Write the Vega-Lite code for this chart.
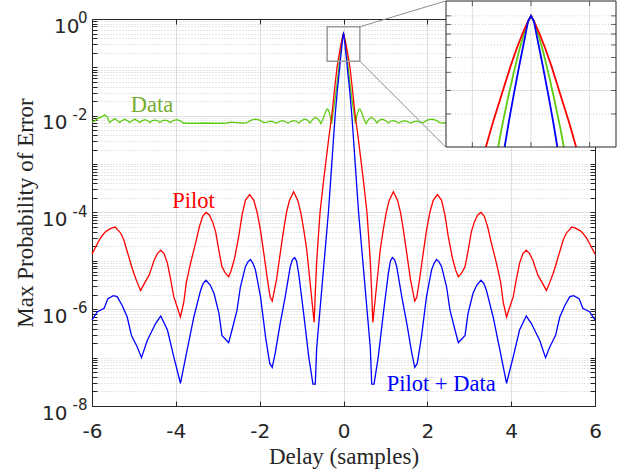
{
"$schema": "https://vega.github.io/schema/vega-lite/v6.json",
"width": 503, "height": 387,
"autosize": {"type": "none"},
"padding": {"left": 92, "top": 19, "right": 34, "bottom": 68},
"background": "white",
"config": {"view": {"stroke": null}},
"datasets": {
"curves": [
{"s":"Data","x":-6,"p":0.00741},{"s":"Data","x":-5.93,"p":0.00794},{"s":"Data","x":-5.85,"p":0.00891},{"s":"Data","x":-5.76,"p":0.00955},{"s":"Data","x":-5.7,"p":0.01047},{"s":"Data","x":-5.64,"p":0.00955},{"s":"Data","x":-5.58,"p":0.00724},{"s":"Data","x":-5.52,"p":0.00794},{"s":"Data","x":-5.46,"p":0.00871},{"s":"Data","x":-5.4,"p":0.00794},{"s":"Data","x":-5.34,"p":0.00724},{"s":"Data","x":-5.28,"p":0.00794},{"s":"Data","x":-5.22,"p":0.00851},{"s":"Data","x":-5.16,"p":0.00794},{"s":"Data","x":-5.1,"p":0.00724},{"s":"Data","x":-5.04,"p":0.00794},{"s":"Data","x":-4.98,"p":0.00851},{"s":"Data","x":-4.92,"p":0.00794},{"s":"Data","x":-4.86,"p":0.00724},{"s":"Data","x":-4.8,"p":0.00794},{"s":"Data","x":-4.74,"p":0.00832},{"s":"Data","x":-4.68,"p":0.00794},{"s":"Data","x":-4.62,"p":0.00724},{"s":"Data","x":-4.56,"p":0.00794},{"s":"Data","x":-4.5,"p":0.00813},{"s":"Data","x":-4.44,"p":0.00794},{"s":"Data","x":-4.38,"p":0.00724},{"s":"Data","x":-4.32,"p":0.00794},{"s":"Data","x":-4.26,"p":0.00813},{"s":"Data","x":-4.2,"p":0.00794},{"s":"Data","x":-4.14,"p":0.00724},{"s":"Data","x":-4.06,"p":0.00794},{"s":"Data","x":-3.98,"p":0.00832},{"s":"Data","x":-3.9,"p":0.00794},{"s":"Data","x":-3.82,"p":0.00708},{"s":"Data","x":-3.7,"p":0.007},{"s":"Data","x":-3.5,"p":0.007},{"s":"Data","x":-3.3,"p":0.00708},{"s":"Data","x":-3.1,"p":0.007},{"s":"Data","x":-2.9,"p":0.007},{"s":"Data","x":-2.8,"p":0.00708},{"s":"Data","x":-2.67,"p":0.00741},{"s":"Data","x":-2.55,"p":0.00724},{"s":"Data","x":-2.4,"p":0.00708},{"s":"Data","x":-2.3,"p":0.00724},{"s":"Data","x":-2.2,"p":0.00813},{"s":"Data","x":-2.1,"p":0.00851},{"s":"Data","x":-2,"p":0.00813},{"s":"Data","x":-1.9,"p":0.00724},{"s":"Data","x":-1.82,"p":0.00741},{"s":"Data","x":-1.75,"p":0.00776},{"s":"Data","x":-1.68,"p":0.00759},{"s":"Data","x":-1.6,"p":0.00708},{"s":"Data","x":-1.53,"p":0.00759},{"s":"Data","x":-1.46,"p":0.00794},{"s":"Data","x":-1.39,"p":0.00759},{"s":"Data","x":-1.32,"p":0.00708},{"s":"Data","x":-1.26,"p":0.00759},{"s":"Data","x":-1.2,"p":0.00794},{"s":"Data","x":-1.13,"p":0.00776},{"s":"Data","x":-1.07,"p":0.00708},{"s":"Data","x":-1,"p":0.00794},{"s":"Data","x":-0.93,"p":0.00851},{"s":"Data","x":-0.86,"p":0.00813},{"s":"Data","x":-0.8,"p":0.00708},{"s":"Data","x":-0.74,"p":0.00832},{"s":"Data","x":-0.67,"p":0.00933},{"s":"Data","x":-0.6,"p":0.00851},{"s":"Data","x":-0.54,"p":0.00692},{"s":"Data","x":-0.48,"p":0.00891},{"s":"Data","x":-0.43,"p":0.012},{"s":"Data","x":-0.39,"p":0.0138},{"s":"Data","x":-0.36,"p":0.0132},{"s":"Data","x":-0.32,"p":0.01},{"s":"Data","x":-0.28,"p":0.00692},{"s":"Data","x":-0.26,"p":0.01},{"s":"Data","x":-0.24,"p":0.0126},{"s":"Data","x":-0.2,"p":0.0224},{"s":"Data","x":-0.15,"p":0.0501},{"s":"Data","x":-0.112,"p":0.1},{"s":"Data","x":-0.1,"p":0.126},{"s":"Data","x":-0.08,"p":0.178},{"s":"Data","x":-0.06,"p":0.245},{"s":"Data","x":-0.04,"p":0.329},{"s":"Data","x":-0.02,"p":0.422},{"s":"Data","x":-0.01,"p":0.468},
{"s":"Data","x":0,"p":0.5},
{"s":"Data","x":0.01,"p":0.468},{"s":"Data","x":0.02,"p":0.422},{"s":"Data","x":0.04,"p":0.329},{"s":"Data","x":0.06,"p":0.245},{"s":"Data","x":0.08,"p":0.178},{"s":"Data","x":0.1,"p":0.126},{"s":"Data","x":0.112,"p":0.1},{"s":"Data","x":0.15,"p":0.0501},{"s":"Data","x":0.2,"p":0.0224},{"s":"Data","x":0.24,"p":0.0126},{"s":"Data","x":0.26,"p":0.01},{"s":"Data","x":0.28,"p":0.00692},{"s":"Data","x":0.32,"p":0.01},{"s":"Data","x":0.36,"p":0.0132},{"s":"Data","x":0.39,"p":0.0138},{"s":"Data","x":0.43,"p":0.012},{"s":"Data","x":0.48,"p":0.00891},{"s":"Data","x":0.54,"p":0.00692},{"s":"Data","x":0.6,"p":0.00851},{"s":"Data","x":0.67,"p":0.00933},{"s":"Data","x":0.74,"p":0.00832},{"s":"Data","x":0.8,"p":0.00708},{"s":"Data","x":0.86,"p":0.00813},{"s":"Data","x":0.93,"p":0.00851},{"s":"Data","x":1,"p":0.00794},{"s":"Data","x":1.07,"p":0.00708},{"s":"Data","x":1.13,"p":0.00776},{"s":"Data","x":1.2,"p":0.00794},{"s":"Data","x":1.26,"p":0.00759},{"s":"Data","x":1.32,"p":0.00708},{"s":"Data","x":1.39,"p":0.00759},{"s":"Data","x":1.46,"p":0.00794},{"s":"Data","x":1.53,"p":0.00759},{"s":"Data","x":1.6,"p":0.00708},{"s":"Data","x":1.68,"p":0.00759},{"s":"Data","x":1.75,"p":0.00776},{"s":"Data","x":1.82,"p":0.00741},{"s":"Data","x":1.9,"p":0.00724},{"s":"Data","x":2,"p":0.00813},{"s":"Data","x":2.1,"p":0.00851},{"s":"Data","x":2.2,"p":0.00813},{"s":"Data","x":2.3,"p":0.00724},{"s":"Data","x":2.4,"p":0.00708},{"s":"Data","x":2.55,"p":0.00724},{"s":"Data","x":2.67,"p":0.00741},{"s":"Data","x":2.8,"p":0.00708},{"s":"Data","x":2.9,"p":0.007},{"s":"Data","x":3.1,"p":0.007},{"s":"Data","x":3.3,"p":0.00708},{"s":"Data","x":3.5,"p":0.007},{"s":"Data","x":3.7,"p":0.007},{"s":"Data","x":3.82,"p":0.00708},{"s":"Data","x":3.9,"p":0.00794},{"s":"Data","x":3.98,"p":0.00832},{"s":"Data","x":4.06,"p":0.00794},{"s":"Data","x":4.14,"p":0.00724},{"s":"Data","x":4.2,"p":0.00794},{"s":"Data","x":4.26,"p":0.00813},{"s":"Data","x":4.32,"p":0.00794},{"s":"Data","x":4.38,"p":0.00724},{"s":"Data","x":4.44,"p":0.00794},{"s":"Data","x":4.5,"p":0.00813},{"s":"Data","x":4.56,"p":0.00794},{"s":"Data","x":4.62,"p":0.00724},{"s":"Data","x":4.68,"p":0.00794},{"s":"Data","x":4.74,"p":0.00832},{"s":"Data","x":4.8,"p":0.00794},{"s":"Data","x":4.86,"p":0.00724},{"s":"Data","x":4.92,"p":0.00794},{"s":"Data","x":4.98,"p":0.00851},{"s":"Data","x":5.04,"p":0.00794},{"s":"Data","x":5.1,"p":0.00724},{"s":"Data","x":5.16,"p":0.00794},{"s":"Data","x":5.22,"p":0.00851},{"s":"Data","x":5.28,"p":0.00794},{"s":"Data","x":5.34,"p":0.00724},{"s":"Data","x":5.4,"p":0.00794},{"s":"Data","x":5.46,"p":0.00871},{"s":"Data","x":5.52,"p":0.00794},{"s":"Data","x":5.58,"p":0.00724},{"s":"Data","x":5.64,"p":0.00955},{"s":"Data","x":5.7,"p":0.01047},{"s":"Data","x":5.76,"p":0.00955},{"s":"Data","x":5.85,"p":0.00891},{"s":"Data","x":5.93,"p":0.00794},{"s":"Data","x":6,"p":0.00741},

{"s":"Pilot","x":-6,"p":1.38e-5},{"s":"Pilot","x":-5.94,"p":1.74e-5},{"s":"Pilot","x":-5.87,"p":2.29e-5},{"s":"Pilot","x":-5.8,"p":2.95e-5},{"s":"Pilot","x":-5.71,"p":3.72e-5},{"s":"Pilot","x":-5.65,"p":4.17e-5},{"s":"Pilot","x":-5.59,"p":4.47e-5},{"s":"Pilot","x":-5.52,"p":4.79e-5},{"s":"Pilot","x":-5.44,"p":5.01e-5},{"s":"Pilot","x":-5.4,"p":4.47e-5},{"s":"Pilot","x":-5.32,"p":3.8e-5},{"s":"Pilot","x":-5.24,"p":2.69e-5},{"s":"Pilot","x":-5.18,"p":1.78e-5},{"s":"Pilot","x":-5.12,"p":1.2e-5},{"s":"Pilot","x":-5.06,"p":7.94e-6},{"s":"Pilot","x":-5,"p":5.5e-6},{"s":"Pilot","x":-4.92,"p":3.55e-6},{"s":"Pilot","x":-4.84,"p":2.45e-6},{"s":"Pilot","x":-4.74,"p":3.55e-6},{"s":"Pilot","x":-4.64,"p":5.01e-6},{"s":"Pilot","x":-4.58,"p":7.08e-6},{"s":"Pilot","x":-4.52,"p":1.02e-5},{"s":"Pilot","x":-4.44,"p":1.41e-5},{"s":"Pilot","x":-4.36,"p":1.66e-5},{"s":"Pilot","x":-4.28,"p":1.41e-5},{"s":"Pilot","x":-4.2,"p":8.91e-6},{"s":"Pilot","x":-4.12,"p":3.98e-6},{"s":"Pilot","x":-4.05,"p":1.82e-6},{"s":"Pilot","x":-3.95,"p":1e-6},{"s":"Pilot","x":-3.89,"p":6.92e-7},{"s":"Pilot","x":-3.81,"p":1.41e-6},{"s":"Pilot","x":-3.75,"p":3.55e-6},{"s":"Pilot","x":-3.65,"p":8.91e-6},{"s":"Pilot","x":-3.52,"p":2.51e-5},{"s":"Pilot","x":-3.44,"p":5.01e-5},{"s":"Pilot","x":-3.36,"p":8.32e-5},{"s":"Pilot","x":-3.28,"p":1e-4},{"s":"Pilot","x":-3.2,"p":8.91e-5},{"s":"Pilot","x":-3.12,"p":6.31e-5},{"s":"Pilot","x":-3.05,"p":3.98e-5},{"s":"Pilot","x":-2.97,"p":1.58e-5},{"s":"Pilot","x":-2.9,"p":7.59e-6},{"s":"Pilot","x":-2.82,"p":5.62e-6},{"s":"Pilot","x":-2.74,"p":4.68e-6},{"s":"Pilot","x":-2.68,"p":6.31e-6},{"s":"Pilot","x":-2.6,"p":1.12e-5},{"s":"Pilot","x":-2.5,"p":3.16e-5},{"s":"Pilot","x":-2.42,"p":8.91e-5},{"s":"Pilot","x":-2.34,"p":1.78e-4},{"s":"Pilot","x":-2.24,"p":2.34e-4},{"s":"Pilot","x":-2.14,"p":1.78e-4},{"s":"Pilot","x":-2.06,"p":1e-4},{"s":"Pilot","x":-1.98,"p":4.27e-5},{"s":"Pilot","x":-1.9,"p":1.41e-5},{"s":"Pilot","x":-1.82,"p":4.47e-6},{"s":"Pilot","x":-1.75,"p":1.78e-6},{"s":"Pilot","x":-1.7,"p":1.48e-6},{"s":"Pilot","x":-1.6,"p":3.98e-6},{"s":"Pilot","x":-1.51,"p":1.41e-5},{"s":"Pilot","x":-1.43,"p":4.27e-5},{"s":"Pilot","x":-1.36,"p":1e-4},{"s":"Pilot","x":-1.29,"p":1.78e-4},{"s":"Pilot","x":-1.19,"p":2.69e-4},{"s":"Pilot","x":-1.09,"p":1.78e-4},{"s":"Pilot","x":-1.02,"p":1e-4},{"s":"Pilot","x":-0.95,"p":4.47e-5},{"s":"Pilot","x":-0.88,"p":1.78e-5},{"s":"Pilot","x":-0.82,"p":5.62e-6},{"s":"Pilot","x":-0.75,"p":1.41e-6},{"s":"Pilot","x":-0.7,"p":5.37e-7},{"s":"Pilot","x":-0.67,"p":2.51e-6},{"s":"Pilot","x":-0.64,"p":9.55e-6},{"s":"Pilot","x":-0.6,"p":3.16e-5},{"s":"Pilot","x":-0.56,"p":1e-4},{"s":"Pilot","x":-0.49,"p":0.000355},{"s":"Pilot","x":-0.42,"p":0.00112},{"s":"Pilot","x":-0.35,"p":0.00355},{"s":"Pilot","x":-0.28,"p":0.01},{"s":"Pilot","x":-0.2,"p":0.0447},{"s":"Pilot","x":-0.154,"p":0.1},{"s":"Pilot","x":-0.13,"p":0.135},{"s":"Pilot","x":-0.11,"p":0.17},{"s":"Pilot","x":-0.09,"p":0.214},{"s":"Pilot","x":-0.07,"p":0.269},{"s":"Pilot","x":-0.05,"p":0.331},{"s":"Pilot","x":-0.03,"p":0.398},{"s":"Pilot","x":-0.01,"p":0.468},
{"s":"Pilot","x":0,"p":0.5},
{"s":"Pilot","x":0.01,"p":0.468},{"s":"Pilot","x":0.03,"p":0.398},{"s":"Pilot","x":0.05,"p":0.331},{"s":"Pilot","x":0.07,"p":0.269},{"s":"Pilot","x":0.09,"p":0.214},{"s":"Pilot","x":0.11,"p":0.17},{"s":"Pilot","x":0.13,"p":0.135},{"s":"Pilot","x":0.154,"p":0.1},{"s":"Pilot","x":0.2,"p":0.0447},{"s":"Pilot","x":0.28,"p":0.01},{"s":"Pilot","x":0.35,"p":0.00355},{"s":"Pilot","x":0.42,"p":0.00112},{"s":"Pilot","x":0.49,"p":0.000355},{"s":"Pilot","x":0.56,"p":1e-4},{"s":"Pilot","x":0.6,"p":3.16e-5},{"s":"Pilot","x":0.64,"p":9.55e-6},{"s":"Pilot","x":0.67,"p":2.51e-6},{"s":"Pilot","x":0.7,"p":5.37e-7},{"s":"Pilot","x":0.75,"p":1.41e-6},{"s":"Pilot","x":0.82,"p":5.62e-6},{"s":"Pilot","x":0.88,"p":1.78e-5},{"s":"Pilot","x":0.95,"p":4.47e-5},{"s":"Pilot","x":1.02,"p":1e-4},{"s":"Pilot","x":1.09,"p":1.78e-4},{"s":"Pilot","x":1.19,"p":2.69e-4},{"s":"Pilot","x":1.29,"p":1.78e-4},{"s":"Pilot","x":1.36,"p":1e-4},{"s":"Pilot","x":1.43,"p":4.27e-5},{"s":"Pilot","x":1.51,"p":1.41e-5},{"s":"Pilot","x":1.6,"p":3.98e-6},{"s":"Pilot","x":1.7,"p":1.48e-6},{"s":"Pilot","x":1.75,"p":1.78e-6},{"s":"Pilot","x":1.82,"p":4.47e-6},{"s":"Pilot","x":1.9,"p":1.41e-5},{"s":"Pilot","x":1.98,"p":4.27e-5},{"s":"Pilot","x":2.06,"p":1e-4},{"s":"Pilot","x":2.14,"p":1.78e-4},{"s":"Pilot","x":2.24,"p":2.34e-4},{"s":"Pilot","x":2.34,"p":1.78e-4},{"s":"Pilot","x":2.42,"p":8.91e-5},{"s":"Pilot","x":2.5,"p":3.16e-5},{"s":"Pilot","x":2.6,"p":1.12e-5},{"s":"Pilot","x":2.68,"p":6.31e-6},{"s":"Pilot","x":2.74,"p":4.68e-6},{"s":"Pilot","x":2.82,"p":5.62e-6},{"s":"Pilot","x":2.9,"p":7.59e-6},{"s":"Pilot","x":2.97,"p":1.58e-5},{"s":"Pilot","x":3.05,"p":3.98e-5},{"s":"Pilot","x":3.12,"p":6.31e-5},{"s":"Pilot","x":3.2,"p":8.91e-5},{"s":"Pilot","x":3.28,"p":1e-4},{"s":"Pilot","x":3.36,"p":8.32e-5},{"s":"Pilot","x":3.44,"p":5.01e-5},{"s":"Pilot","x":3.52,"p":2.51e-5},{"s":"Pilot","x":3.65,"p":8.91e-6},{"s":"Pilot","x":3.75,"p":3.55e-6},{"s":"Pilot","x":3.81,"p":1.41e-6},{"s":"Pilot","x":3.89,"p":6.92e-7},{"s":"Pilot","x":3.95,"p":1e-6},{"s":"Pilot","x":4.05,"p":1.82e-6},{"s":"Pilot","x":4.12,"p":3.98e-6},{"s":"Pilot","x":4.2,"p":8.91e-6},{"s":"Pilot","x":4.28,"p":1.41e-5},{"s":"Pilot","x":4.36,"p":1.66e-5},{"s":"Pilot","x":4.44,"p":1.41e-5},{"s":"Pilot","x":4.52,"p":1.02e-5},{"s":"Pilot","x":4.58,"p":7.08e-6},{"s":"Pilot","x":4.64,"p":5.01e-6},{"s":"Pilot","x":4.74,"p":3.55e-6},{"s":"Pilot","x":4.84,"p":2.45e-6},{"s":"Pilot","x":4.92,"p":3.55e-6},{"s":"Pilot","x":5,"p":5.5e-6},{"s":"Pilot","x":5.06,"p":7.94e-6},{"s":"Pilot","x":5.12,"p":1.2e-5},{"s":"Pilot","x":5.18,"p":1.78e-5},{"s":"Pilot","x":5.24,"p":2.69e-5},{"s":"Pilot","x":5.32,"p":3.8e-5},{"s":"Pilot","x":5.4,"p":4.47e-5},{"s":"Pilot","x":5.44,"p":5.01e-5},{"s":"Pilot","x":5.52,"p":4.79e-5},{"s":"Pilot","x":5.59,"p":4.47e-5},{"s":"Pilot","x":5.65,"p":4.17e-5},{"s":"Pilot","x":5.71,"p":3.72e-5},{"s":"Pilot","x":5.8,"p":2.95e-5},{"s":"Pilot","x":5.87,"p":2.29e-5},{"s":"Pilot","x":5.94,"p":1.74e-5},{"s":"Pilot","x":6,"p":1.38e-5},

{"s":"Pilot + Data","x":-6,"p":6.03e-7},{"s":"Pilot + Data","x":-5.87,"p":8.91e-7},{"s":"Pilot + Data","x":-5.71,"p":1.05e-6},{"s":"Pilot + Data","x":-5.62,"p":1.66e-6},{"s":"Pilot + Data","x":-5.49,"p":1.91e-6},{"s":"Pilot + Data","x":-5.4,"p":1.82e-6},{"s":"Pilot + Data","x":-5.28,"p":1.2e-6},{"s":"Pilot + Data","x":-5.16,"p":6.92e-7},{"s":"Pilot + Data","x":-5.06,"p":2.88e-7},{"s":"Pilot + Data","x":-4.92,"p":1.66e-7},{"s":"Pilot + Data","x":-4.82,"p":1e-7},{"s":"Pilot + Data","x":-4.68,"p":2.29e-7},{"s":"Pilot + Data","x":-4.6,"p":3.16e-7},{"s":"Pilot + Data","x":-4.48,"p":5.13e-7},{"s":"Pilot + Data","x":-4.36,"p":7.24e-7},{"s":"Pilot + Data","x":-4.2,"p":3.72e-7},{"s":"Pilot + Data","x":-4.05,"p":1.05e-7},{"s":"Pilot + Data","x":-3.89,"p":2.95e-8},{"s":"Pilot + Data","x":-3.73,"p":1.45e-7},{"s":"Pilot + Data","x":-3.57,"p":6.92e-7},{"s":"Pilot + Data","x":-3.41,"p":2.45e-6},{"s":"Pilot + Data","x":-3.35,"p":3.39e-6},{"s":"Pilot + Data","x":-3.28,"p":3.98e-6},{"s":"Pilot + Data","x":-3.18,"p":3.16e-6},{"s":"Pilot + Data","x":-3.09,"p":2.14e-6},{"s":"Pilot + Data","x":-2.97,"p":8.13e-7},{"s":"Pilot + Data","x":-2.9,"p":2.88e-7},{"s":"Pilot + Data","x":-2.74,"p":2.04e-7},{"s":"Pilot + Data","x":-2.66,"p":3.72e-7},{"s":"Pilot + Data","x":-2.54,"p":9.55e-7},{"s":"Pilot + Data","x":-2.46,"p":2.88e-6},{"s":"Pilot + Data","x":-2.34,"p":7.59e-6},{"s":"Pilot + Data","x":-2.28,"p":9.55e-6},{"s":"Pilot + Data","x":-2.22,"p":1.07e-5},{"s":"Pilot + Data","x":-2.16,"p":8.91e-6},{"s":"Pilot + Data","x":-2.1,"p":6.46e-6},{"s":"Pilot + Data","x":-1.98,"p":1.82e-6},{"s":"Pilot + Data","x":-1.86,"p":2.69e-7},{"s":"Pilot + Data","x":-1.76,"p":7.59e-8},{"s":"Pilot + Data","x":-1.7,"p":6.31e-8},{"s":"Pilot + Data","x":-1.63,"p":1.23e-7},{"s":"Pilot + Data","x":-1.51,"p":5.13e-7},{"s":"Pilot + Data","x":-1.39,"p":1.82e-6},{"s":"Pilot + Data","x":-1.27,"p":7.59e-6},{"s":"Pilot + Data","x":-1.22,"p":1.05e-5},{"s":"Pilot + Data","x":-1.165,"p":1.17e-5},{"s":"Pilot + Data","x":-1.12,"p":1e-5},{"s":"Pilot + Data","x":-1.07,"p":5.5e-6},{"s":"Pilot + Data","x":-0.95,"p":8.13e-7},{"s":"Pilot + Data","x":-0.83,"p":1.05e-7},{"s":"Pilot + Data","x":-0.729,"p":2.82e-8},{"s":"Pilot + Data","x":-0.673,"p":2.82e-8},{"s":"Pilot + Data","x":-0.64,"p":1.58e-7},{"s":"Pilot + Data","x":-0.56,"p":1e-6},{"s":"Pilot + Data","x":-0.46,"p":1e-5},{"s":"Pilot + Data","x":-0.36,"p":1e-4},{"s":"Pilot + Data","x":-0.28,"p":0.001},{"s":"Pilot + Data","x":-0.2,"p":0.01},{"s":"Pilot + Data","x":-0.15,"p":0.0316},{"s":"Pilot + Data","x":-0.12,"p":0.0562},{"s":"Pilot + Data","x":-0.09,"p":0.1},{"s":"Pilot + Data","x":-0.075,"p":0.138},{"s":"Pilot + Data","x":-0.06,"p":0.186},{"s":"Pilot + Data","x":-0.04,"p":0.272},{"s":"Pilot + Data","x":-0.02,"p":0.389},{"s":"Pilot + Data","x":-0.01,"p":0.468},
{"s":"Pilot + Data","x":0,"p":0.5},
{"s":"Pilot + Data","x":0.01,"p":0.468},{"s":"Pilot + Data","x":0.02,"p":0.389},{"s":"Pilot + Data","x":0.04,"p":0.272},{"s":"Pilot + Data","x":0.06,"p":0.186},{"s":"Pilot + Data","x":0.075,"p":0.138},{"s":"Pilot + Data","x":0.09,"p":0.1},{"s":"Pilot + Data","x":0.12,"p":0.0562},{"s":"Pilot + Data","x":0.15,"p":0.0316},{"s":"Pilot + Data","x":0.2,"p":0.01},{"s":"Pilot + Data","x":0.28,"p":0.001},{"s":"Pilot + Data","x":0.36,"p":1e-4},{"s":"Pilot + Data","x":0.46,"p":1e-5},{"s":"Pilot + Data","x":0.56,"p":1e-6},{"s":"Pilot + Data","x":0.64,"p":1.58e-7},{"s":"Pilot + Data","x":0.673,"p":2.82e-8},{"s":"Pilot + Data","x":0.729,"p":2.82e-8},{"s":"Pilot + Data","x":0.83,"p":1.05e-7},{"s":"Pilot + Data","x":0.95,"p":8.13e-7},{"s":"Pilot + Data","x":1.07,"p":5.5e-6},{"s":"Pilot + Data","x":1.12,"p":1e-5},{"s":"Pilot + Data","x":1.165,"p":1.17e-5},{"s":"Pilot + Data","x":1.22,"p":1.05e-5},{"s":"Pilot + Data","x":1.27,"p":7.59e-6},{"s":"Pilot + Data","x":1.39,"p":1.82e-6},{"s":"Pilot + Data","x":1.51,"p":5.13e-7},{"s":"Pilot + Data","x":1.63,"p":1.23e-7},{"s":"Pilot + Data","x":1.7,"p":6.31e-8},{"s":"Pilot + Data","x":1.76,"p":7.59e-8},{"s":"Pilot + Data","x":1.86,"p":2.69e-7},{"s":"Pilot + Data","x":1.98,"p":1.82e-6},{"s":"Pilot + Data","x":2.1,"p":6.46e-6},{"s":"Pilot + Data","x":2.16,"p":8.91e-6},{"s":"Pilot + Data","x":2.22,"p":1.07e-5},{"s":"Pilot + Data","x":2.28,"p":9.55e-6},{"s":"Pilot + Data","x":2.34,"p":7.59e-6},{"s":"Pilot + Data","x":2.46,"p":2.88e-6},{"s":"Pilot + Data","x":2.54,"p":9.55e-7},{"s":"Pilot + Data","x":2.66,"p":3.72e-7},{"s":"Pilot + Data","x":2.74,"p":2.04e-7},{"s":"Pilot + Data","x":2.9,"p":2.88e-7},{"s":"Pilot + Data","x":2.97,"p":8.13e-7},{"s":"Pilot + Data","x":3.09,"p":2.14e-6},{"s":"Pilot + Data","x":3.18,"p":3.16e-6},{"s":"Pilot + Data","x":3.28,"p":3.98e-6},{"s":"Pilot + Data","x":3.35,"p":3.39e-6},{"s":"Pilot + Data","x":3.41,"p":2.45e-6},{"s":"Pilot + Data","x":3.57,"p":6.92e-7},{"s":"Pilot + Data","x":3.73,"p":1.45e-7},{"s":"Pilot + Data","x":3.89,"p":2.95e-8},{"s":"Pilot + Data","x":4.05,"p":1.05e-7},{"s":"Pilot + Data","x":4.2,"p":3.72e-7},{"s":"Pilot + Data","x":4.36,"p":7.24e-7},{"s":"Pilot + Data","x":4.48,"p":5.13e-7},{"s":"Pilot + Data","x":4.6,"p":3.16e-7},{"s":"Pilot + Data","x":4.68,"p":2.29e-7},{"s":"Pilot + Data","x":4.82,"p":1e-7},{"s":"Pilot + Data","x":4.92,"p":1.66e-7},{"s":"Pilot + Data","x":5.06,"p":2.88e-7},{"s":"Pilot + Data","x":5.16,"p":6.92e-7},{"s":"Pilot + Data","x":5.28,"p":1.2e-6},{"s":"Pilot + Data","x":5.4,"p":1.82e-6},{"s":"Pilot + Data","x":5.49,"p":1.91e-6},{"s":"Pilot + Data","x":5.62,"p":1.66e-6},{"s":"Pilot + Data","x":5.71,"p":1.05e-6},{"s":"Pilot + Data","x":5.87,"p":8.91e-7},{"s":"Pilot + Data","x":6,"p":6.03e-7}
],
"labels": [
{"t":"Data","x":-4.57,"y":0.012,"s":"Data"},
{"t":"Pilot","x":-3.58,"y":0.000124,"s":"Pilot"},
{"t":"Pilot + Data","x":2.33,"y":2.07e-8,"s":"Pilot + Data"}
],
"exps": [
{"v":1,"e":"0"},{"v":0.01,"e":"-2"},{"v":0.0001,"e":"-4"},{"v":0.000001,"e":"-6"},{"v":1e-8,"e":"-8"}
]
},
"layer": [
{"layer": [
{
"data": {"name": "curves"},
"mark": {"type": "line", "strokeWidth": 1.3},
"encoding": {
"x": {"field": "x", "type": "quantitative", "scale": {"domain": [-6, 6], "nice": false, "zero": false},
"axis": {"orient": "bottom", "values": [-6,-4,-2,0,2,4,6], "labelExpr": "'' + datum.value", "labelFont": "DejaVu Sans", "labelFontSize": 20, "labelColor": "#262626", "labelBaseline": "alphabetic", "labelPadding": 36, "labelFlush": false, "labelOverlap": false, "tickSize": -5, "tickColor": "#262626", "domainColor": "#262626", "grid": true, "gridColor": "#dedede", "title": "Delay (samples)", "titleFont": "Liberation Serif", "titleFontSize": 23, "titleFontWeight": "normal", "titleColor": "#262626", "titleBaseline": "alphabetic", "titleY": 57}},
"y": {"field": "p", "type": "quantitative", "scale": {"type": "log", "domain": [1e-8, 1], "nice": false},
"axis": {"orient": "left",
"values": [1e-8,2e-8,3e-8,4e-8,5e-8,6e-8,7e-8,8e-8,9e-8,1e-7,2e-7,3e-7,4e-7,5e-7,6e-7,7e-7,8e-7,9e-7,1e-6,2e-6,3e-6,4e-6,5e-6,6e-6,7e-6,8e-6,9e-6,1e-5,2e-5,3e-5,4e-5,5e-5,6e-5,7e-5,8e-5,9e-5,1e-4,2e-4,3e-4,4e-4,5e-4,6e-4,7e-4,8e-4,9e-4,0.001,0.002,0.003,0.004,0.005,0.006,0.007,0.008,0.009,0.01,0.02,0.03,0.04,0.05,0.06,0.07,0.08,0.09,0.1,0.2,0.3,0.4,0.5,0.6,0.7,0.8,0.9,1],
"labelExpr": "(datum.value == 1 || datum.value == 0.01 || datum.value == 0.0001 || datum.value == 0.000001 || datum.value == 0.00000001) ? '10' : ''",
"labelFont": "DejaVu Sans", "labelFontSize": 20, "labelColor": "#262626", "labelBaseline": "alphabetic", "labelOffset": 13,
"labelPadding": {"condition": {"test": "datum.value == 1", "value": 18}, "value": 30},
"labelOverlap": false, "labelFlush": false, "labelBound": false,
"tickSize": -5, "tickColor": "#262626", "domainColor": "#262626",
"grid": true,
"gridColor": {"condition": {"test": "datum.value == 1 || datum.value == 0.01 || datum.value == 0.0001 || datum.value == 0.000001 || datum.value == 0.00000001", "value": "#dedede"}, "value": "#cfcfcf"},
"gridDash": {"condition": {"test": "datum.value == 1 || datum.value == 0.01 || datum.value == 0.0001 || datum.value == 0.000001 || datum.value == 0.00000001", "value": []}, "value": [1, 2]},
"title": "Max Probability of Error", "titleFont": "Liberation Serif", "titleFontSize": 23, "titleFontWeight": "normal", "titleColor": "#262626", "titleAngle": 270, "titleBaseline": "alphabetic", "titleX": -60}},
"stroke": {"field": "s", "type": "nominal", "scale": {"domain": ["Data", "Pilot", "Pilot + Data"], "range": ["#5fcc14", "#ff0000", "#0000ff"]}, "legend": null}
}
},
{
"data": {"name": "labels"},
"mark": {"type": "text", "font": "Liberation Serif", "fontSize": 22.5, "align": "center", "baseline": "alphabetic"},
"encoding": {
"x": {"field": "x", "type": "quantitative", "axis": null},
"y": {"field": "y", "type": "quantitative", "scale": {"type": "log"}, "axis": null},
"text": {"field": "t"},
"color": {"field": "s", "type": "nominal", "scale": {"domain": ["Data", "Pilot", "Pilot + Data"], "range": ["#77ac30", "#ff0000", "#0000ff"]}, "legend": null}
}
},
{
"data": {"name": "exps"},
"mark": {"type": "text", "font": "DejaVu Sans", "fontSize": 15, "align": "right", "baseline": "alphabetic", "dx": -4.5, "dy": 4, "color": "#262626"},
"encoding": {
"x": {"datum": -6, "type": "quantitative", "axis": null},
"y": {"field": "v", "type": "quantitative", "scale": {"type": "log"},
"axis": {"orient": "right", "values": [1e-8,2e-8,3e-8,4e-8,5e-8,6e-8,7e-8,8e-8,9e-8,1e-7,2e-7,3e-7,4e-7,5e-7,6e-7,7e-7,8e-7,9e-7,1e-6,2e-6,3e-6,4e-6,5e-6,6e-6,7e-6,8e-6,9e-6,1e-5,2e-5,3e-5,4e-5,5e-5,6e-5,7e-5,8e-5,9e-5,1e-4,2e-4,3e-4,4e-4,5e-4,6e-4,7e-4,8e-4,9e-4,0.001,0.002,0.003,0.004,0.005,0.006,0.007,0.008,0.009,0.01,0.02,0.03,0.04,0.05,0.06,0.07,0.08,0.09,0.1,0.2,0.3,0.4,0.5,0.6,0.7,0.8,0.9,1], "labels": false, "grid": false, "tickSize": -5, "tickColor": "#262626", "domainColor": "#262626", "title": null}},
"text": {"field": "e"}
}
},
{
"data": {"values": [{}]},
"mark": {"type": "rect", "fill": "transparent", "stroke": "#9a9a9a", "strokeWidth": 1.5},
"encoding": {
"x": {"datum": -0.39, "type": "quantitative", "axis": {"orient": "top", "values": [-6,-4,-2,0,2,4,6], "labels": false, "grid": false, "tickSize": -5, "tickColor": "#262626", "domainColor": "#262626", "title": null}},
"x2": {"datum": 0.39},
"y": {"datum": 0.134, "type": "quantitative", "scale": {"type": "log"}, "axis": null},
"y2": {"datum": 0.69}
}
},
{
"data": {"values": [{}]},
"mark": {"type": "rule", "stroke": "#8c8c8c", "strokeWidth": 1},
"encoding": {
"x": {"datum": 0.39, "type": "quantitative", "axis": null},
"x2": {"datum": 2.436},
"y": {"datum": 0.69, "type": "quantitative", "scale": {"type": "log"}, "axis": null},
"y2": {"datum": 2.36}
}
},
{
"data": {"values": [{}]},
"mark": {"type": "rule", "stroke": "#8c8c8c", "strokeWidth": 1},
"encoding": {
"x": {"datum": 0.39, "type": "quantitative", "axis": null},
"x2": {"datum": 2.436},
"y": {"datum": 0.134, "type": "quantitative", "scale": {"type": "log"}, "axis": null},
"y2": {"datum": 0.00226}
}
}
]},
{"layer": [
{
"data": {"values": [{}]},
"mark": {"type": "rect", "fill": "white"},
"encoding": {
"x": {"datum": -0.29, "type": "quantitative", "scale": {"domain": [-0.29, 0.29], "range": [354, 524], "nice": false, "zero": false}, "axis": null},
"x2": {"datum": 0.29},
"y": {"datum": 0.1, "type": "quantitative", "scale": {"type": "log", "domain": [0.1, 0.6], "range": [128, -18], "nice": false}, "axis": null},
"y2": {"datum": 0.6}
}
},
{
"data": {"values": [{"g": -0.2}, {"g": 0}, {"g": 0.2}]},
"mark": {"type": "rule", "stroke": "#dedede", "strokeWidth": 1},
"encoding": {
"x": {"field": "g", "type": "quantitative", "axis": null},
"y": {"datum": 0.1, "type": "quantitative", "scale": {"type": "log"}, "axis": null},
"y2": {"datum": 0.6}
}
},
{
"data": {"values": [{"g": 0.2}, {"g": 0.4}]},
"mark": {"type": "rule", "stroke": "#dedede", "strokeWidth": 1},
"encoding": {
"y": {"field": "g", "type": "quantitative", "scale": {"type": "log"}, "axis": null},
"x": {"datum": -0.29, "type": "quantitative", "axis": null},
"x2": {"datum": 0.29}
}
},
{
"data": {"values": [{"g": 0.15}, {"g": 0.25}, {"g": 0.3}, {"g": 0.35}, {"g": 0.45}, {"g": 0.5}]},
"mark": {"type": "rule", "stroke": "#cfcfcf", "strokeWidth": 1, "strokeDash": [1, 2]},
"encoding": {
"y": {"field": "g", "type": "quantitative", "scale": {"type": "log"}, "axis": null},
"x": {"datum": -0.29, "type": "quantitative", "axis": null},
"x2": {"datum": 0.29}
}
},
{
"data": {"name": "curves"},
"transform": [{"filter": "datum.p >= 0.0999"}],
"mark": {"type": "line", "strokeWidth": 1.8},
"encoding": {
"x": {"field": "x", "type": "quantitative", "axis": null},
"y": {"field": "p", "type": "quantitative", "scale": {"type": "log"}, "axis": null},
"stroke": {"field": "s", "type": "nominal", "legend": null}
}
},
{
"data": {"values": [{"g": 0.15}, {"g": 0.2}, {"g": 0.25}, {"g": 0.3}, {"g": 0.35}, {"g": 0.4}, {"g": 0.45}, {"g": 0.5}]},
"mark": {"type": "tick", "orient": "horizontal", "size": 5, "thickness": 1, "xOffset": 2.5, "color": "#262626"},
"encoding": {
"y": {"field": "g", "type": "quantitative", "scale": {"type": "log"}, "axis": null},
"x": {"datum": -0.29, "type": "quantitative", "axis": null}
}
},
{
"data": {"values": [{"g": 0.15}, {"g": 0.2}, {"g": 0.25}, {"g": 0.3}, {"g": 0.35}, {"g": 0.4}, {"g": 0.45}, {"g": 0.5}]},
"mark": {"type": "tick", "orient": "horizontal", "size": 5, "thickness": 1, "xOffset": -2.5, "color": "#262626"},
"encoding": {
"y": {"field": "g", "type": "quantitative", "scale": {"type": "log"}, "axis": null},
"x": {"datum": 0.29, "type": "quantitative", "axis": null}
}
},
{
"data": {"values": [{"g": -0.2}, {"g": 0}, {"g": 0.2}]},
"mark": {"type": "tick", "orient": "vertical", "size": 5, "thickness": 1, "yOffset": -2.5, "color": "#262626"},
"encoding": {
"x": {"field": "g", "type": "quantitative", "axis": null},
"y": {"datum": 0.1, "type": "quantitative", "scale": {"type": "log"}, "axis": null}
}
},
{
"data": {"values": [{"g": -0.2}, {"g": 0}, {"g": 0.2}]},
"mark": {"type": "tick", "orient": "vertical", "size": 5, "thickness": 1, "yOffset": 2.5, "color": "#262626"},
"encoding": {
"x": {"field": "g", "type": "quantitative", "axis": null},
"y": {"datum": 0.6, "type": "quantitative", "scale": {"type": "log"}, "axis": null}
}
},
{
"data": {"values": [{}]},
"mark": {"type": "rect", "fill": "transparent", "stroke": "#262626", "strokeWidth": 1},
"encoding": {
"x": {"datum": -0.29, "type": "quantitative", "axis": null},
"x2": {"datum": 0.29},
"y": {"datum": 0.1, "type": "quantitative", "scale": {"type": "log"}, "axis": null},
"y2": {"datum": 0.6}
}
}
]}
],
"resolve": {"scale": {"x": "independent", "y": "independent"}}
}
